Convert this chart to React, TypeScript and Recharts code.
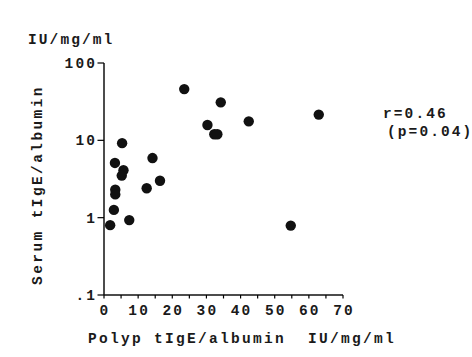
import React from 'react';
import { ScatterChart, Scatter, XAxis, YAxis, Customized } from 'recharts';

// Polyp tIgE/albumin (IU/mg/ml)
const polyp = [23.5, 34.2, 62.9, 42.4, 30.3, 32.3, 33.2, 5.3, 14.2, 3.2, 5.7, 5.2, 16.4, 12.5, 3.3, 3.3, 2.9, 7.4, 1.8, 54.7];
// Serum tIgE/albumin (IU/mg/ml)
const serum = [46, 31, 21.5, 17.6, 15.8, 12.0, 12.0, 9.2, 5.9, 5.1, 4.1, 3.5, 3.0, 2.4, 2.3, 2.0, 1.26, 0.93, 0.8, 0.79];

const xTicks = [0, 5, 10, 15, 20, 25, 30, 35, 40, 45, 50, 55, 60, 65, 70];
const xLabeled = [0, 10, 20, 30, 40, 50, 60, 70];
const xLabels = ['0', '10', '20', '30', '40', '50', '60', '70'];

const yMajor = [0.1, 1, 10, 100];
const yLabels = ['.1', '1', '10', '100'];
const yMinor = [
  0.2, 0.3, 0.4, 0.5, 0.6, 0.7, 0.8, 0.9,
  2, 3, 4, 5, 6, 7, 8, 9,
  20, 30, 40, 50, 60, 70, 80, 90,
];

const data = polyp.map((x, i) => ({ x, y: serum[i] }));

const FONT = {
  fontFamily: '"Liberation Mono", "DejaVu Sans Mono", monospace',
  fontSize: 14.5,
  fontWeight: 700 as const,
  letterSpacing: 2.1,
  fill: '#1a1a1a',
};

const INK = '#111';

const YTick = (props: any) => {
  const { x, y, payload } = props;
  const idx = yMajor.indexOf(payload.value);
  return (
    <g>
      <line x1={x - 6.5} x2={x} y1={y} y2={y} stroke="#000" strokeWidth={1.2} />
      {idx >= 0 && (
        <text x={x - 7} y={y + 5} textAnchor="end" style={FONT}>
          {yLabels[idx]}
        </text>
      )}
    </g>
  );
};

const XTick = (props: any) => {
  const { x, y, payload } = props;
  const idx = xLabeled.indexOf(payload.value);
  return (
    <g>
      <line x1={x} x2={x} y1={y} y2={y + 3.5} stroke="#000" strokeWidth={1.2} />
      {idx >= 0 && (
        <text x={x + 1} y={y + 20} textAnchor="middle" style={FONT}>
          {xLabels[idx]}
        </text>
      )}
    </g>
  );
};

const Texts = () => (
  <g>
    <text x={28} y={44} style={FONT}>IU/mg/ml</text>
    <text x={88} y={343} style={{ ...FONT, letterSpacing: 2.3, whiteSpace: 'pre' }}>{'Polyp tIgE/albumin  IU/mg/ml'}</text>
    <text
      x={42}
      y={185}
      textAnchor="middle"
      transform="rotate(-90, 42, 185)"
      style={{ ...FONT, letterSpacing: 2.4 }}
    >
      Serum tIgE/albumin
    </text>
    <text x={383} y={118} style={FONT}>r=0.46</text>
    <text x={387} y={136} style={FONT}>(p=0.04)</text>
  </g>
);

export default function App() {
  return (
    <div style={{ position: 'absolute', left: 0, top: 0, width: 472, height: 357, background: '#fff' }}>
      <ScatterChart width={472} height={357} margin={{ top: 63, right: 129, bottom: 32, left: 0 }}>
        <XAxis
          type="number"
          dataKey="x"
          domain={[0, 70]}
          ticks={xTicks}
          interval={0}
          minTickGap={0}
          tickSize={0}
          tickMargin={0}
          height={30}
          axisLine={{ stroke: INK, strokeWidth: 1.5 }}
          tickLine={false}
          tick={<XTick />}
          allowDataOverflow
        />
        <YAxis
          yAxisId="minor"
          type="number"
          scale="log"
          domain={[0.1, 100]}
          ticks={yMinor}
          interval={0}
          minTickGap={0}
          tickSize={4.5}
          width={0}
          axisLine={false}
          tickLine={{ stroke: '#000', strokeWidth: 1.2 }}
          tick={false}
          allowDataOverflow
        />
        <YAxis
          type="number"
          dataKey="y"
          scale="log"
          domain={[0.1, 100]}
          ticks={yMajor}
          interval={0}
          minTickGap={0}
          tickSize={0}
          tickMargin={0}
          width={104}
          axisLine={{ stroke: INK, strokeWidth: 1.5 }}
          tickLine={false}
          tick={<YTick />}
          allowDataOverflow
        />
        <Scatter
          data={data}
          isAnimationActive={false}
          shape={(p: any) => <circle cx={p.cx} cy={p.cy} r={5.2} fill="#111" />}
        />
        <Customized component={Texts} />
      </ScatterChart>
    </div>
  );
}
